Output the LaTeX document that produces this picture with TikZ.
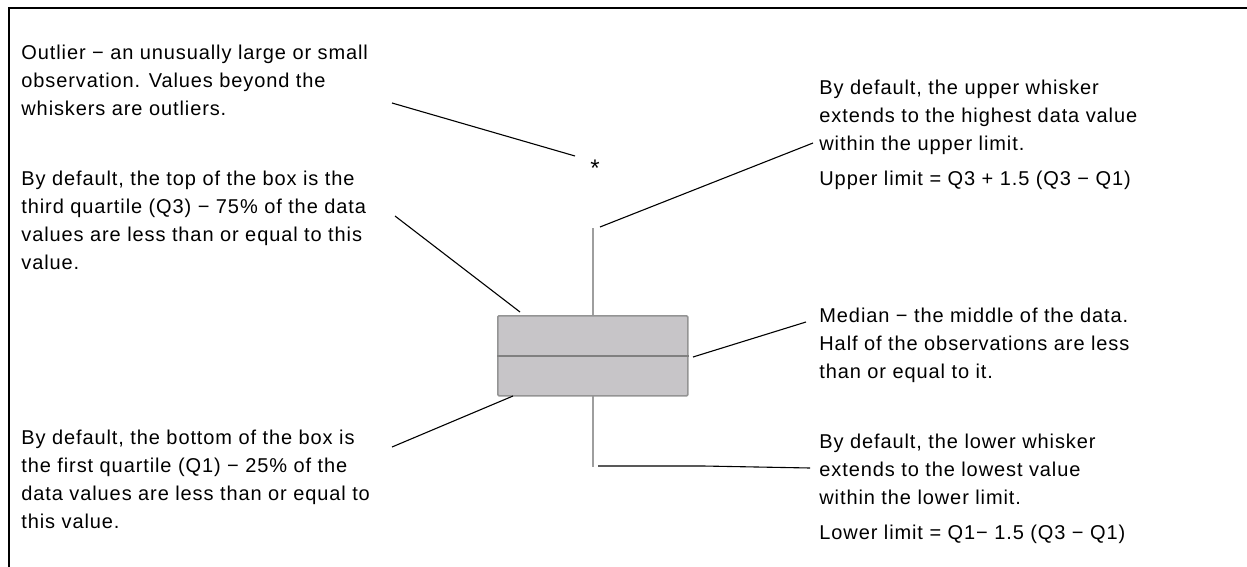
\documentclass[tikz,border=0pt]{standalone}
\usepackage{fontspec}
\setmainfont{Liberation Sans}
\newfontfamily\labfont[LetterSpace=4.5]{Liberation Sans}
\begin{document}
\begin{tikzpicture}[x=0.5pt,y=-0.5pt,
  lab/.style={anchor=north west, inner sep=0pt, align=left,
    font={\labfont\fontsize{10}{14}\selectfont}},
  leader/.style={draw=black, line width=0.55pt},
  whisk/.style={draw=black!38, line width=0.6pt},
  boxstyle/.style={draw=black!42, fill={rgb,255:red,199;green,197;blue,200}, line width=0.8pt, rounded corners=0.6pt},
  medstyle/.style={draw=black!50, line width=0.8pt},
  frame/.style={draw=black, line width=1.4pt}]
\useasboundingbox (0,0) rectangle (1247,567);
\fill[white] (0,0) rectangle (1247,567);
% frame (only top and left visible)
\draw[frame] (9,567) -- (9,8) -- (1247,8);

% box plot geometry
\coordinate (wtop) at (593,228);
\coordinate (wbot) at (593,467);
\coordinate (bxtop) at (593,315);
\coordinate (bxbot) at (593,395);
\draw[whisk] (wtop) -- (bxtop);
\draw[whisk] (bxbot) -- (wbot);
\node[boxstyle, minimum width=95pt, minimum height=40pt, inner sep=0pt, anchor=north west] (box) at (497,315) {};
\draw[medstyle] (box.west) -- (box.east);
\node[inner sep=0pt, font=\fontsize{12}{12}\selectfont] (star) at (595,168) {*};

% texts
\node[lab] (outl) at (21,45) {Outlier − an unusually large or small\\observation. Values beyond the\\whiskers are outliers.};
\node[lab] (q3) at (21,171) {By default, the top of the box is the\\third quartile (Q3) − 75\% of the data\\values are less than or equal to this\\value.};
\node[lab] (q1) at (21,430) {By default, the bottom of the box is\\the first quartile (Q1) − 25\% of the\\data values are less than or equal to\\this value.};
\node[lab] (uw) at (819,80) {By default, the upper whisker\\extends to the highest data value\\within the upper limit.\\[3.5pt]Upper limit = Q3 + 1.5 (Q3 − Q1)};
\node[lab] (med) at (819,308) {Median − the middle of the data.\\Half of the observations are less\\than or equal to it.};
\node[lab] (lw) at (819,434) {By default, the lower whisker\\extends to the lowest value\\within the lower limit.\\[3.5pt]Lower limit = Q1− 1.5 (Q3 − Q1)};

% leader lines
\coordinate (l1a) at (392,103); \coordinate (l1b) at (575,156);
\draw[leader] (l1a) -- (l1b);
\coordinate (l2a) at (395,216); \coordinate (l2b) at (520,312);
\draw[leader] (l2a) -- (l2b);
\coordinate (l3a) at (392,447); \coordinate (l3b) at (513,396);
\draw[leader] (l3a) -- (l3b);
\coordinate (l4a) at (600,227); \coordinate (l4b) at (813,143);
\draw[leader] (l4a) -- (l4b);
\coordinate (l5a) at (693,357); \coordinate (l5b) at (806,322);
\draw[leader] (l5a) -- (l5b);
\coordinate (l6a) at (598,466); \coordinate (l6m) at (703,466); \coordinate (l6b) at (810,468);
\draw[leader] (l6a) -- (l6m) -- (l6b);
\end{tikzpicture}
\end{document}
